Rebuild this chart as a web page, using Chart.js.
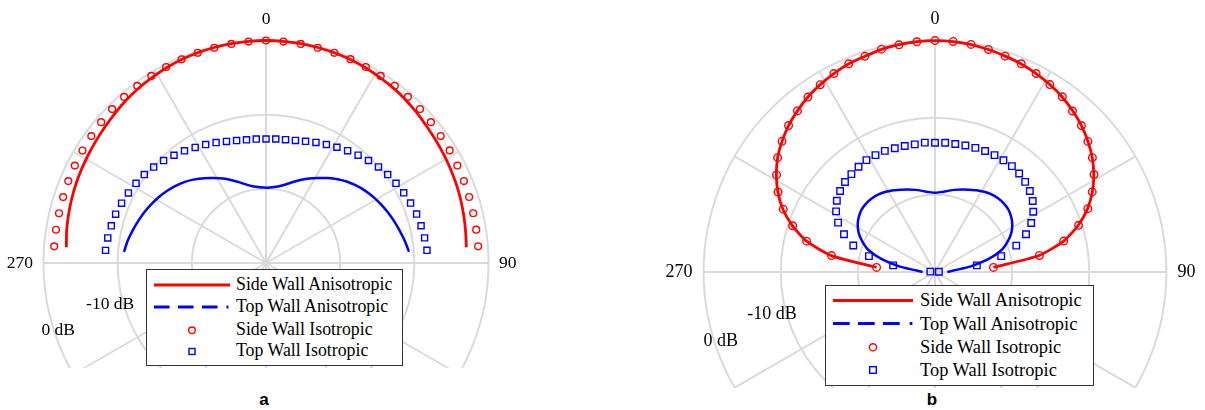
<!DOCTYPE html>
<html>
<head>
<meta charset="utf-8">
<script src="https://cdn.jsdelivr.net/npm/chart.js@4.4.1/dist/chart.umd.min.js"></script>
<style>
  html, body { margin: 0; padding: 0; background: #fff; }
  body { width: 1205px; height: 410px; position: relative; overflow: hidden; }
  .clip { position: absolute; top: 0; overflow: hidden; }
  .clip canvas { position: absolute; top: 0; }
  .legend { position: absolute; box-sizing: border-box; border: 1px solid #333; background: #fff;
            font-family: "Liberation Serif", "Times New Roman", serif; color: #000; }
  .legend svg { position: absolute; left: 0; top: 0; }
  .legend span { position: absolute; white-space: nowrap; line-height: 20px; }
  .tag { position: absolute; width: 40px; text-align: center; line-height: 20px;
         font: bold 17px "Liberation Sans", Arial, sans-serif; color: #000; }
</style>
</head>
<body>
<div class="clip" style="left:0;width:602px;height:368px"><canvas id="chartA" width="600" height="526" style="left:-34px"></canvas></div>
<div class="clip" style="left:602px;width:603px;height:388px"><canvas id="chartB" width="620" height="546" style="left:23px"></canvas></div>
<div class="legend" id="legendA"></div>
<div class="legend" id="legendB"></div>
<div class="tag" style="left:244px;top:389.5px">a</div>
<div class="tag" style="left:912px;top:390px">b</div>
<script>
// Directions of the samples, in degrees clockwise from 0 at the top
const sampleAngles = [-90, -85.5, -81, -76.5, -72, -67.5, -63, -58.5, -54, -49.5, -45, -40.5, -36, -31.5, -27, -22.5, -18, -13.5, -9, -4.5,
  0, 4.5, 9, 13.5, 18, 22.5, 27, 31.5, 36, 40.5, 45, 49.5, 54, 58.5, 63, 67.5, 72, 76.5, 81, 85.5, 90];

// Series names (legend order)
const seriesNames = ['Side Wall Anisotropic', 'Top Wall Anisotropic', 'Side Wall Isotropic', 'Top Wall Isotropic'];

// Panel a: normalised pattern in dB
const sideAnisoA = [null, -3.0, -2.78, -2.6, -2.42, -2.25, -2.1, -1.94, -1.76, -1.56, -1.31, -1.05, -0.83, -0.64, -0.45, -0.3, -0.2, -0.12, -0.06, -0.02,
  0, -0.02, -0.06, -0.12, -0.2, -0.3, -0.45, -0.64, -0.82, -1.04, -1.3, -1.55, -1.75, -1.92, -2.08, -2.23, -2.4, -2.58, -2.75, -2.9, null];
const topAnisoA = [null, -10.8, -11.1, -11.48, -11.85, -12.22, -12.62, -13.02, -13.47, -13.97, -14.52, -15.17, -15.87, -16.57, -17.22, -17.92, -18.57, -19.17, -19.57, -19.76,
  -19.85, -19.75, -19.55, -19.15, -18.55, -17.9, -17.2, -16.55, -15.85, -15.15, -14.5, -13.95, -13.45, -13.0, -12.6, -12.2, -11.82, -11.45, -11.05, -10.66, null];
const sideIsoA = [null, -1.35, -1.33, -1.3, -1.24, -1.15, -1.07, -0.98, -0.89, -0.77, -0.65, -0.55, -0.48, -0.41, -0.34, -0.27, -0.2, -0.15, -0.1, -0.05,
  0, -0.05, -0.1, -0.15, -0.2, -0.26, -0.34, -0.41, -0.47, -0.54, -0.64, -0.76, -0.88, -0.96, -1.04, -1.12, -1.2, -1.27, -1.3, -1.31, null];
const topIsoA = [null, -8.3, -8.4, -8.55, -8.68, -8.92, -9.18, -9.45, -9.72, -10.08, -10.47, -10.9, -11.3, -11.72, -12.08, -12.42, -12.76, -13.02, -13.18, -13.24,
  -13.28, -13.23, -13.16, -13.0, -12.75, -12.4, -12.07, -11.7, -11.28, -10.88, -10.46, -10.06, -9.72, -9.44, -9.16, -8.9, -8.65, -8.5, -8.35, -8.23, null];

// Panel b: normalised pattern in dB
const sideAnisoB = [null, -22.4, -16.4, -12.87, -10.55, -8.65, -7.14, -5.88, -4.78, -3.92, -3.15, -2.53, -1.96, -1.51, -1.12, -0.79, -0.59, -0.31, -0.16, -0.04,
  0, -0.03, -0.14, -0.33, -0.57, -0.8, -1.12, -1.5, -1.95, -2.52, -3.15, -3.92, -4.8, -5.85, -7.1, -8.6, -10.5, -12.85, -16.35, -22.4, null];
const topAnisoB = [-28.4, -27.6, -25.3, -22.9, -21.0, -19.85, -18.9, -18.25, -17.8, -17.5, -17.4, -17.42, -17.55, -17.8, -18.1, -18.45, -18.75, -19.05, -19.35, -19.6,
  -19.74, -19.6, -19.35, -19.05, -18.75, -18.45, -18.1, -17.8, -17.55, -17.42, -17.4, -17.5, -17.8, -18.25, -18.9, -19.85, -21.0, -22.9, -25.3, -27.6, -28.4];
const sideIsoB = [null, -22.4, -16.42, -12.88, -10.6, -8.7, -7.16, -5.91, -4.78, -3.92, -3.15, -2.53, -1.97, -1.52, -1.13, -0.78, -0.6, -0.29, -0.18, -0.06,
  0, -0.02, -0.13, -0.33, -0.58, -0.78, -1.12, -1.5, -1.92, -2.55, -3.15, -3.93, -4.78, -5.82, -7.12, -8.55, -10.43, -12.85, -16.3, -22.4, null];
const topIsoB = [null, -29.4, -24.5, -21.19, -18.86, -17.23, -15.9, -14.96, -14.27, -13.82, -13.5, -13.31, -13.14, -12.99, -13.0, -13.0, -13.13, -13.2, -13.25, -13.18,
  -13.25, -13.2, -13.2, -13.14, -13.08, -13.03, -13.0, -13.02, -13.04, -13.2, -13.47, -13.83, -14.34, -15.06, -16.0, -17.23, -18.92, -21.17, -24.5, -29.5, null];

// Radial axis (dB) and its captions
const radialMin = -30, radialMax = 0, radialStep = 10;
const radialCaptionValues = [-10, 0];
const radialCaptionTexts = ['-10 dB', '0 dB'];
// Angular axis: category step, labelled directions, grid spokes
const angleStep = 4.5;
const shownAngleLabels = ['0', '90', '270'];
const spokeAngles = [0, 30, 60, 90, 120, 150, 180, 210, 240, 270, 300, 330];

const RED = '#ff0000', BLUE = '#0000ff', GRID = '#dadada';

const angleLabels = [];
for (let a = 0; a < 360; a += angleStep) angleLabels.push(String(a));

// Place a series sampled at sampleAngles onto the full circle of categories
function onCircle(values) {
  const out = new Array(angleLabels.length).fill(null);
  sampleAngles.forEach((ang, i) => {
    const idx = Math.round((((ang % 360) + 360) % 360) / angleStep);
    out[idx] = values[i];
  });
  return out;
}

// Spokes every 30 degrees and the dB captions, placed through the radial scale
function polarDecor(s) {
  return {
    id: 'polarDecor',
    beforeDatasetsDraw(chart) {
      const r = chart.scales.r;
      const ctx = chart.ctx;
      const perIndex = 360 / chart.data.labels.length;
      ctx.save();
      ctx.strokeStyle = GRID;
      ctx.lineWidth = 2;
      spokeAngles.forEach(a => {
        const end = r.getPointPosition(a / perIndex, r.drawingArea);
        ctx.beginPath();
        ctx.moveTo(r.xCenter, r.yCenter);
        ctx.lineTo(end.x, end.y);
        ctx.stroke();
      });
      ctx.fillStyle = '#000';
      ctx.font = s.fontSize + 'px "Liberation Serif", serif';
      ctx.textAlign = 'center';
      ctx.textBaseline = 'middle';
      radialCaptionValues.forEach((v, i) => {
        const p = r.getPointPosition(s.captionAngles[i] / perIndex,
          r.getDistanceFromCenterForValue(v) + s.captionGaps[i]);
        ctx.fillText(radialCaptionTexts[i], p.x, p.y);
      });
      ctx.restore();
    }
  };
}

function makePanel(id, series, s) {
  const [sideAniso, topAniso, sideIso, topIso] = series;
  return new Chart(document.getElementById(id), {
    type: 'radar',
    data: {
      labels: angleLabels,
      datasets: [
        { label: seriesNames[0], data: onCircle(sideAniso), borderColor: RED, borderWidth: 2.8,
          pointRadius: 0, fill: false, tension: 0.2 },
        { label: seriesNames[1], data: onCircle(topAniso), borderColor: BLUE, borderWidth: 2.5,
          pointRadius: 0, fill: false, tension: 0.2 },
        { label: seriesNames[2], data: onCircle(sideIso), showLine: false, fill: false,
          pointStyle: 'circle', pointRadius: s.circleR, pointBorderWidth: 1.4,
          pointBorderColor: RED, pointBackgroundColor: 'rgba(0,0,0,0)' },
        { label: seriesNames[3], data: onCircle(topIso), showLine: false, fill: false,
          pointStyle: 'rect', pointRadius: s.squareR, pointBorderWidth: 1.4,
          pointBorderColor: BLUE, pointBackgroundColor: 'rgba(0,0,0,0)' }
      ]
    },
    options: {
      responsive: false,
      animation: false,
      events: [],
      layout: { padding: { top: s.padTop, bottom: s.padTop, left: 0, right: 0 } },
      plugins: { legend: { display: false }, tooltip: { enabled: false } },
      scales: {
        r: {
          min: radialMin, max: radialMax,
          startAngle: 0,
          ticks: { display: false, stepSize: radialStep },
          grid: { color: GRID, lineWidth: 2, circular: true },
          angleLines: { display: false },
          pointLabels: {
            display: true,
            padding: s.labelPad,
            color: '#000',
            font: { family: '"Liberation Serif", serif', size: s.fontSize },
            callback: (label) => shownAngleLabels.includes(label) ? label : ''
          }
        }
      }
    },
    plugins: [polarDecor(s)]
  });
}

makePanel('chartA', [sideAnisoA, topAnisoA, sideIsoA, topIsoA], {
  padTop: 9, labelPad: 10.5, fontSize: 17.5, circleR: 3.4, squareR: 4.3,
  captionAngles: [255, 252], captionGaps: [13, -4]
});
makePanel('chartB', [sideAnisoB, topAnisoB, sideIsoB, topIsoB], {
  padTop: 9, labelPad: 11, fontSize: 18, circleR: 3.8, squareR: 4.6,
  captionAngles: [255.5, 252], captionGaps: [14, -6]
});

// Legend boxes
function buildLegend(id, g) {
  const el = document.getElementById(id);
  el.style.left = g.left + 'px';
  el.style.top = g.top + 'px';
  el.style.width = g.width + 'px';
  el.style.height = g.height + 'px';
  el.style.fontSize = g.font + 'px';
  const ox = g.left + 1, oy = g.top + 1;
  const lineX0 = g.x0 - ox, lineX1 = g.x1 - ox, mx = g.mx - ox;
  let svg = '<svg width="' + g.width + '" height="' + g.height + '">';
  const y = g.sampleYs.map(v => v - oy);
  svg += '<line x1="' + lineX0 + '" x2="' + lineX1 + '" y1="' + y[0] + '" y2="' + y[0] + '" stroke="' + RED + '" stroke-width="2.8"/>';
  svg += '<line x1="' + lineX0 + '" x2="' + lineX1 + '" y1="' + y[1] + '" y2="' + y[1] + '" stroke="' + BLUE + '" stroke-width="2.8" stroke-dasharray="' + g.dash.join(' ') + '"/>';
  svg += '<circle cx="' + mx + '" cy="' + y[2] + '" r="' + g.cr + '" fill="none" stroke="' + RED + '" stroke-width="1.4"/>';
  svg += '<rect x="' + (mx - g.sq / 2) + '" y="' + (y[3] - g.sq / 2) + '" width="' + g.sq + '" height="' + g.sq + '" fill="none" stroke="' + BLUE + '" stroke-width="1.4"/>';
  svg += '</svg>';
  const baseOff = (20 - 1.107 * g.font) / 2 + 0.891 * g.font;
  let html = svg;
  seriesNames.forEach((name, i) => {
    html += '<span style="left:' + (g.tx - ox) + 'px;top:' + (g.baselines[i] - oy - baseOff) + 'px">' + name + '</span>';
  });
  el.innerHTML = html;
}

buildLegend('legendA', {
  left: 146, top: 269, width: 257, height: 97, font: 17.8,
  x0: 154, x1: 230, mx: 192, tx: 236,
  sampleYs: [285, 307, 330.3, 351.5], baselines: [290.5, 312.5, 334.8, 356.5],
  dash: [15.5, 8.5, 15.5, 8.5, 15.5, 9, 2, 100], cr: 3.3, sq: 6
});
buildLegend('legendB', {
  left: 825, top: 285, width: 269, height: 101, font: 18.4,
  x0: 833, x1: 913, mx: 873, tx: 920,
  sampleYs: [300.5, 323.5, 347.3, 370], baselines: [306.7, 330, 353.3, 376.7],
  dash: [16.7, 8.3, 16.7, 8.3, 16.7, 10, 2.7, 100], cr: 3.6, sq: 6.6
});
</script>
</body>
</html>
